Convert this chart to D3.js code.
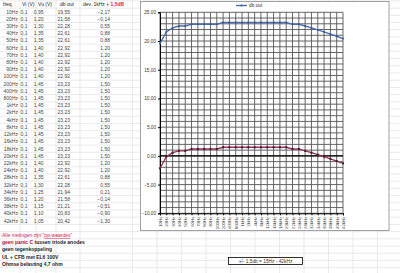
<!DOCTYPE html>
<html>
<head>
<meta charset="utf-8">
<script src="https://cdn.jsdelivr.net/npm/d3@7"></script>
<style>
  body { margin: 0; background: #fff; }
  svg { display: block; font-family: "Liberation Sans", Arial, sans-serif; }
</style>
</head>
<body>
<svg id="sheet" width="400" height="273"></svg>
<script>
// meetwaarden
const freqs = ["10Hz","20Hz","30Hz","40Hz","50Hz","60Hz","70Hz","80Hz","90Hz","100Hz",
  "200Hz","400Hz","800Hz","1kHz","2kHz","4kHz","8kHz","12kHz","16kHz","18kHz",
  "20kHz","22kHz","24kHz","28kHz","32kHz","34kHz","36kHz","38kHz","40kHz","42kHz"];
const vi = [0.1,0.1,0.1,0.1,0.1,0.1,0.1,0.1,0.1,0.1,0.1,0.1,0.1,0.1,0.1,
  0.1,0.1,0.1,0.1,0.1,0.1,0.1,0.1,0.1,0.1,0.1,0.1,0.1,0.1,0.1];
const vu = [0.95,1.20,1.30,1.35,1.35,1.40,1.40,1.40,1.40,1.40,
  1.45,1.45,1.45,1.45,1.45,1.45,1.45,1.45,1.45,1.45,
  1.45,1.40,1.40,1.35,1.30,1.25,1.20,1.15,1.10,1.05];
const dbOut = [19.55,21.58,22.28,22.61,22.61,22.92,22.92,22.92,22.92,22.92,
  23.23,23.23,23.23,23.23,23.23,23.23,23.23,23.23,23.23,23.23,
  23.23,22.92,22.92,22.61,22.28,21.94,21.58,21.21,20.83,20.42];
const dev = [-2.17,-0.14,0.55,0.88,0.88,1.20,1.20,1.20,1.20,1.20,
  1.50,1.50,1.50,1.50,1.50,1.50,1.50,1.50,1.50,1.50,
  1.50,1.20,1.20,0.88,0.55,0.21,-0.14,-0.51,-0.90,-1.30];
const yTicks = [-10,-5,0,5,10,15,20,25];
const notes = ["geen tegenkoppeling", "UL + CFB met EL6 100V", "Ohmse belasting 4,7 ohm"];

const svg = d3.select("#sheet");
const nl = d3.formatLocale({decimal: ",", thousands: ".", grouping: [3], currency: ["", "€"]});
const f2 = nl.format(".2f"), f1 = nl.format(".1f");

// spreadsheet raster
const rowH = 7.21, row0 = 0.9;
const colLines = [20, 36, 56, 80, 132.5, 157, 181.5, 206, 230.5, 255, 279.5, 304, 328.5, 353, 377.5];
const grid = svg.append("g").attr("stroke", "#dadce0").attr("stroke-width", 0.6);
grid.selectAll("line.r").data(d3.range(0, 38)).join("line")
  .attr("x1", 0).attr("x2", 400)
  .attr("y1", i => row0 + i * rowH).attr("y2", i => row0 + i * rowH);
grid.selectAll("line.c").data(colLines).join("line")
  .attr("x1", d => d).attr("x2", d => d).attr("y1", 0).attr("y2", 273);

const rowY = i => row0 + (i + 0.5) * rowH + 1.8;
const fs = "5px";

// header
const head = svg.append("g").attr("font-size", fs).attr("fill", "#222");
head.append("text").attr("x", 3).attr("y", rowY(0)).text("freq.");
head.append("text").attr("x", 22).attr("y", rowY(0)).text("Vi (V)");
head.append("text").attr("x", 38).attr("y", rowY(0)).text("Vu (V)");
head.append("text").attr("x", 60).attr("y", rowY(0)).text("db out");
const hd = head.append("text").attr("x", 83).attr("y", rowY(0));
hd.append("tspan").text("dev. 1kHz ");
hd.append("tspan").attr("fill", "#e0203a").attr("font-weight", "bold").text("+ 1,5dB");

// table rows
const body = svg.append("g").attr("font-size", fs).attr("fill", "#444").attr("text-anchor", "end");
const cols = [
  {x: 18, v: freqs, f: d => d},
  {x: 27.5, v: vi, f: f1},
  {x: 43.5, v: vu, f: f2},
  {x: 70, v: dbOut, f: f2},
  {x: 110, v: dev, f: f2}
];
cols.forEach(c => {
  body.selectAll(null).data(c.v).join("text")
    .attr("x", c.x).attr("y", (d, i) => rowY(i + 1)).text(c.f);
});

// notes
const nt = svg.append("g").attr("font-size", fs);
const n1 = nt.append("text").attr("x", 2).attr("y", rowY(32)).attr("fill", "#d0204a");
n1.append("tspan").text("Alle metingen zijn \"");
n1.append("tspan").attr("text-decoration", "underline").text("pp-waardes");
n1.append("tspan").text("\"");
const n2 = nt.append("text").attr("x", 2).attr("y", rowY(33)).attr("font-weight", "bold");
n2.append("tspan").attr("fill", "#b0103a").text("geen panic C ");
n2.append("tspan").attr("fill", "#222").text("tussen triode anodes");
nt.selectAll(null).data(notes).join("text")
  .attr("x", 2).attr("y", (d, i) => rowY(34 + i))
  .attr("font-weight", "bold").attr("fill", "#222").text(d => d);

// chart object
svg.append("rect").attr("x", 140.5).attr("y", 1.5).attr("width", 248.5).attr("height", 229)
  .attr("fill", "#fff").attr("stroke", "#8a8a8a").attr("stroke-width", 0.8);

const x = d3.scalePoint().domain(freqs).range([160, 343]);
const y = d3.scaleLinear().domain([-10, 25]).range([213.3, 12.3]);

const pg = svg.append("g").attr("stroke", "#555").attr("stroke-width", 0.9);
pg.selectAll("line.h").data(y.ticks(35)).join("line")
  .attr("x1", 160).attr("x2", 343).attr("y1", d => y(d)).attr("y2", d => y(d));
pg.selectAll("line.v").data(freqs).join("line")
  .attr("x1", d => x(d)).attr("x2", d => x(d)).attr("y1", y(25)).attr("y2", y(-10));

const yAxis = svg.append("g").attr("transform", "translate(160,0)")
  .call(d3.axisLeft(y).tickValues(yTicks).tickFormat(f2).tickSize(2).tickPadding(2));
yAxis.select(".domain").attr("stroke", "#000");
yAxis.selectAll("text").attr("font-size", "4.7px").attr("fill", "#333");

const xAxis = svg.append("g").attr("transform", `translate(0,${y(-10)})`)
  .call(d3.axisBottom(x).tickSize(2));
xAxis.select(".domain").attr("stroke", "#000");
xAxis.selectAll("text")
  .attr("font-size", "4.3px").attr("fill", "#333")
  .attr("text-anchor", "end")
  .attr("transform", "rotate(-90)")
  .attr("x", -3.5).attr("y", 0).attr("dy", "0.35em");

// nul-lijn
svg.append("line").attr("x1", 160).attr("x2", 343).attr("y1", y(0)).attr("y2", y(0))
  .attr("stroke", "#000").attr("stroke-width", 1.1);

const line = d3.line().x((d, i) => x(freqs[i])).y(d => y(d));
svg.append("path").datum(dbOut).attr("d", line)
  .attr("fill", "none").attr("stroke", "#4a6fae").attr("stroke-width", 1.4);
svg.selectAll(null).data(dbOut).join("rect")
  .attr("x", (d, i) => x(freqs[i]) - 0.8).attr("y", d => y(d) - 0.8)
  .attr("width", 1.6).attr("height", 1.6).attr("fill", "#34558f");

svg.append("path").datum(dev).attr("d", line)
  .attr("fill", "none").attr("stroke", "#98325a").attr("stroke-width", 1.3);
svg.selectAll(null).data(dev).join("rect")
  .attr("x", (d, i) => x(freqs[i]) - 1).attr("y", d => y(d) - 1)
  .attr("width", 2).attr("height", 2).attr("fill", "#4a1a2c");

// legenda
svg.append("line").attr("x1", 236).attr("x2", 247).attr("y1", 5.5).attr("y2", 5.5)
  .attr("stroke", "#4a6fae").attr("stroke-width", 1.4);
svg.append("rect").attr("x", 240.7).attr("y", 4.7).attr("width", 1.6).attr("height", 1.6).attr("fill", "#34558f");
svg.append("text").attr("x", 249).attr("y", 7.3).attr("font-size", "4.8px").attr("fill", "#333").text("db out");

// tekstvak
svg.append("rect").attr("x", 228.5).attr("y", 257.5).attr("width", 74).attr("height", 7)
  .attr("fill", "#fff").attr("stroke", "#000").attr("stroke-width", 0.8);
svg.append("text").attr("x", 265.5).attr("y", 262.8).attr("text-anchor", "middle")
  .attr("font-size", "4.8px").attr("fill", "#333").text("+/- 1,5db = 15Hz - 42kHz");
</script>
</body>
</html>
